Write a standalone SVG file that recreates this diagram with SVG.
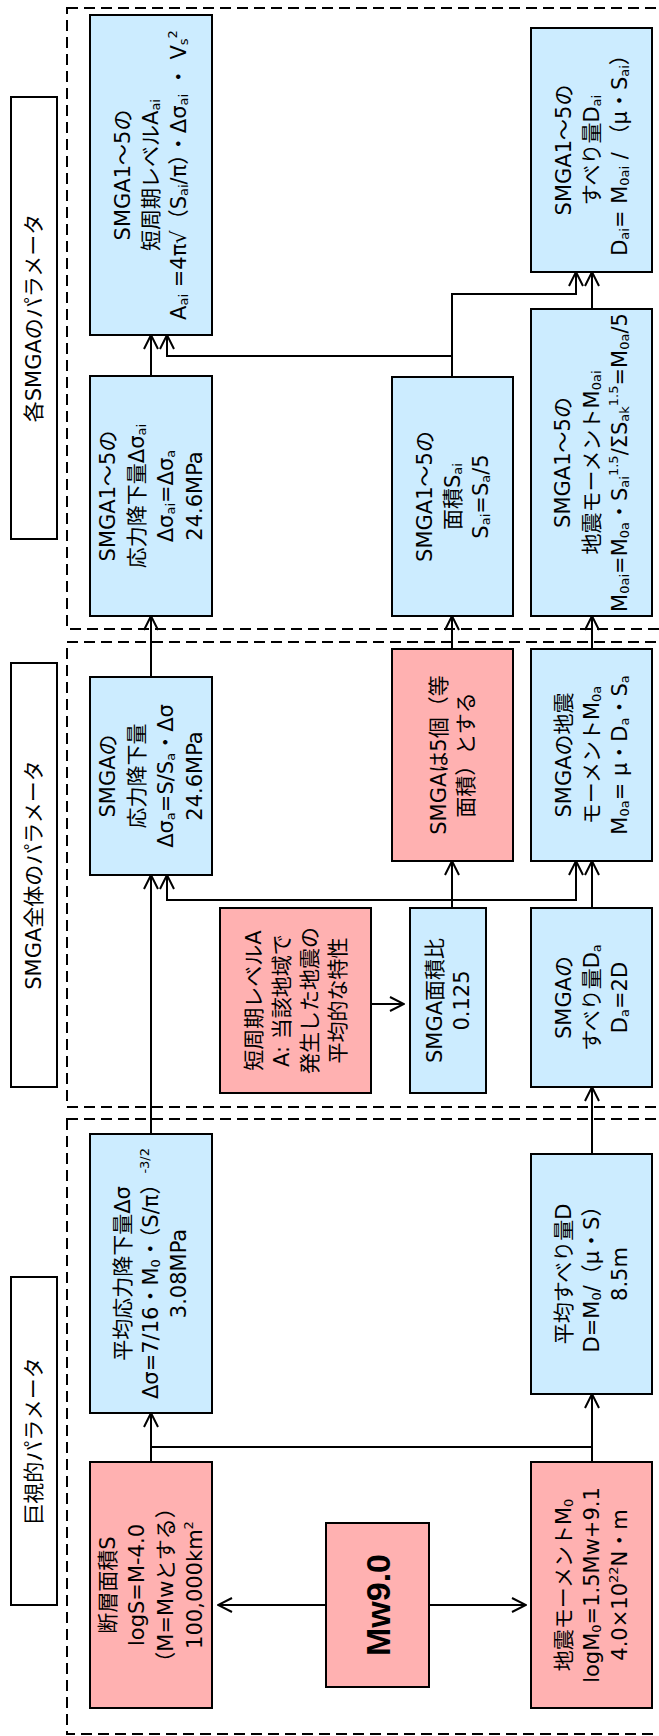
<svg xmlns="http://www.w3.org/2000/svg" width="659" height="1736" viewBox="0 0 659 1736">
<style>
.b{fill:#CCECFF;stroke:#000;stroke-width:2}
.r{fill:#FFB1B1;stroke:#000;stroke-width:2}
.w{fill:#fff;stroke:#000;stroke-width:2}
.d{fill:none;stroke:#000;stroke-width:2;stroke-dasharray:11 6}
.c{fill:none;stroke:#000;stroke-width:2}
.a{marker-end:url(#ah)}
text{font-family:"DejaVu Sans","Noto Sans CJK JP",sans-serif;font-size:21px;text-anchor:middle;dominant-baseline:central;fill:#000}
.s{font-size:13px;baseline-shift:-4px}
.p{font-size:13px;baseline-shift:7px}
.ttl{font-size:21px}
.big{font-family:"Liberation Sans",Arial,sans-serif;font-weight:bold;font-size:34px}
</style>
<defs>
<marker id="ah" viewBox="0 0 16 16" refX="15" refY="8" markerWidth="16" markerHeight="16" markerUnits="userSpaceOnUse" orient="auto"><path d="M1,1 L15,8 L1,15" fill="none" stroke="#000" stroke-width="2"/></marker>
</defs>

<g id="groups">
<rect class="d" x="67" y="8" width="640" height="621"/>
<rect class="d" x="67" y="642" width="640" height="465"/>
<rect class="d" x="67" y="1119" width="640" height="615"/>
</g>

<g id="title-each">
<rect class="w" x="11" y="97" width="46" height="442"/>
<text class="ttl" transform="rotate(-90 34 318)" x="34" y="318">各SMGAのパラメータ</text>
</g>
<g id="title-whole">
<rect class="w" x="11" y="663" width="46" height="424"/>
<text class="ttl" transform="rotate(-90 34 875)" x="34" y="875">SMGA全体のパラメータ</text>
</g>
<g id="title-macro">
<rect class="w" x="11" y="1277" width="46" height="328"/>
<text class="ttl" transform="rotate(-90 34 1441)" x="34" y="1441">巨視的パラメータ</text>
</g>

<g id="connectors">
<path class="c a" d="M326,1605 H218"/>
<path class="c a" d="M429,1605 H526"/>
<path class="c a" d="M151,1462 V1413"/>
<path class="c a" d="M592,1462 V1394"/>
<path class="c" d="M151,1447 H592"/>
<path class="c a" d="M151,1134 V875"/>
<path class="c a" d="M592,1154 V1087"/>
<path class="c a" d="M371,1004 H404"/>
<path class="c a" d="M452,908 V861"/>
<path class="c a" d="M452,900 H167 V875"/>
<path class="c a" d="M452,900 H576 V861"/>
<path class="c a" d="M592,908 V861"/>
<path class="c a" d="M151,677 V616"/>
<path class="c a" d="M452,649 V616"/>
<path class="c a" d="M592,649 V616"/>
<path class="c a" d="M151,376 V335"/>
<path class="c a" d="M452,377 V356 H167 V335"/>
<path class="c a" d="M452,356 V294 H576 V272"/>
<path class="c a" d="M592,309 V272"/>
</g>

<g id="fault-area">
<rect class="r" x="90" y="1462" width="122" height="246"/>
<g transform="rotate(-90 151 1585)">
<text x="151" y="1541.5">断層面積S</text>
<text x="151" y="1570.5">logS=M-4.0</text>
<text x="151" y="1599.5">（M=Mwとする）</text>
<text x="151" y="1628.5">100,000km<tspan class="p">2</tspan></text>
</g>
</g>

<g id="mw">
<rect class="r" x="326" y="1523" width="103" height="164"/>
<text class="big" transform="rotate(-90 377.5 1605)" x="377.5" y="1605">Mw9.0</text>
</g>

<g id="seismic-moment">
<rect class="r" x="531" y="1462" width="121" height="246"/>
<g transform="rotate(-90 591.5 1585)">
<text x="591.5" y="1557">地震モーメントM<tspan class="s">0</tspan></text>
<text x="591.5" y="1585">logM<tspan class="s">0</tspan>=1.5Mw+9.1</text>
<text x="591.5" y="1613">4.0×10<tspan class="p">22</tspan>N・m</text>
</g>
</g>

<g id="avg-stress-drop">
<rect class="b" x="90" y="1134" width="122" height="279"/>
<g transform="rotate(-90 151 1273.5)">
<text x="151" y="1245.5">平均応力降下量Δσ</text>
<text x="151" y="1273.5">Δσ=7/16・M<tspan class="s">0</tspan>・（S/π）<tspan class="p">-3/2</tspan></text>
<text x="151" y="1301.5">3.08MPa</text>
</g>
</g>

<g id="avg-slip">
<rect class="b" x="531" y="1154" width="121" height="240"/>
<g transform="rotate(-90 591.5 1274)">
<text x="591.5" y="1246">平均すべり量D</text>
<text x="591.5" y="1274">D=M<tspan class="s">0</tspan>/（μ・S）</text>
<text x="591.5" y="1302">8.5m</text>
</g>
</g>

<g id="short-period-a">
<rect class="r" x="220" y="908" width="151" height="185"/>
<g transform="rotate(-90 295.5 1000.5)">
<text x="295.5" y="959">短周期レベルA</text>
<text x="295.5" y="987">A: 当該地域で</text>
<text x="295.5" y="1015">発生した地震の</text>
<text x="295.5" y="1043">平均的な特性</text>
</g>
</g>

<g id="smga-area-ratio">
<rect class="b" x="410" y="908" width="76" height="185"/>
<g transform="rotate(-90 448 1000.5)">
<text x="448" y="987">SMGA面積比</text>
<text x="448" y="1014">0.125</text>
</g>
</g>

<g id="smga-slip">
<rect class="b" x="531" y="908" width="121" height="179"/>
<g transform="rotate(-90 591.5 997.5)">
<text x="591.5" y="970">SMGAの</text>
<text x="591.5" y="998">すべり量D<tspan class="s">a</tspan></text>
<text x="591.5" y="1026">D<tspan class="s">a</tspan>=2D</text>
</g>
</g>

<g id="smga-stress-drop">
<rect class="b" x="90" y="677" width="122" height="198"/>
<g transform="rotate(-90 151 776)">
<text x="151" y="732.5">SMGAの</text>
<text x="151" y="761.5">応力降下量</text>
<text x="151" y="790.5">Δσ<tspan class="s">a</tspan>=S/S<tspan class="s">a</tspan>・Δσ</text>
<text x="151" y="819.5">24.6MPa</text>
</g>
</g>

<g id="smga-five">
<rect class="r" x="392" y="649" width="121" height="212"/>
<g transform="rotate(-90 452.5 755)">
<text x="452.5" y="741">SMGAは5個（等</text>
<text x="452.5" y="768">面積）とする</text>
</g>
</g>

<g id="smga-moment">
<rect class="b" x="531" y="649" width="121" height="212"/>
<g transform="rotate(-90 591.5 755)">
<text x="591.5" y="727">SMGAの地震</text>
<text x="591.5" y="755">モーメントM<tspan class="s">0a</tspan></text>
<text x="591.5" y="783">M<tspan class="s">0a</tspan>= μ・D<tspan class="s">a</tspan>・S<tspan class="s">a</tspan></text>
</g>
</g>

<g id="smgai-stress-drop">
<rect class="b" x="90" y="376" width="122" height="240"/>
<g transform="rotate(-90 151 496)">
<text x="151" y="452.5">SMGA1～5の</text>
<text x="151" y="481.5">応力降下量Δσ<tspan class="s">ai</tspan></text>
<text x="151" y="510.5">Δσ<tspan class="s">ai</tspan>=Δσ<tspan class="s">a</tspan></text>
<text x="151" y="539.5">24.6MPa</text>
</g>
</g>

<g id="smgai-area">
<rect class="b" x="392" y="377" width="121" height="239"/>
<g transform="rotate(-90 452.5 496.5)">
<text x="452.5" y="468.5">SMGA1～5の</text>
<text x="452.5" y="496.5">面積S<tspan class="s">ai</tspan></text>
<text x="452.5" y="524.5">S<tspan class="s">ai</tspan>=S<tspan class="s">a</tspan>/5</text>
</g>
</g>

<g id="smgai-moment">
<rect class="b" x="531" y="309" width="121" height="307"/>
<g transform="rotate(-90 591.5 462.5)">
<text x="591.5" y="434">SMGA1～5の</text>
<text x="591.5" y="462.5">地震モーメントM<tspan class="s">0ai</tspan></text>
<text x="591.5" y="491">M<tspan class="s">0ai</tspan>=M<tspan class="s">0a</tspan>・S<tspan class="s">ai</tspan><tspan class="p">1.5</tspan>/ΣS<tspan class="s">ak</tspan><tspan class="p">1.5</tspan>=M<tspan class="s">0a</tspan>/5</text>
</g>
</g>

<g id="smgai-short-period">
<rect class="b" x="90" y="15" width="122" height="320"/>
<g transform="rotate(-90 151 175)">
<text x="151" y="147">SMGA1～5の</text>
<text x="151" y="175">短周期レベルA<tspan class="s">ai</tspan></text>
<text x="151" y="203">A<tspan class="s">ai</tspan> =4π√（S<tspan class="s">ai</tspan>/π）・Δσ<tspan class="s">ai</tspan> ・ V<tspan class="s">s</tspan><tspan class="p">2</tspan></text>
</g>
</g>

<g id="smgai-slip">
<rect class="b" x="531" y="28" width="121" height="244"/>
<g transform="rotate(-90 591.5 150)">
<text x="591.5" y="122">SMGA1～5の</text>
<text x="591.5" y="150">すべり量D<tspan class="s">ai</tspan></text>
<text x="591.5" y="178">D<tspan class="s">ai</tspan>= M<tspan class="s">0ai</tspan> / （μ・S<tspan class="s">ai</tspan>）</text>
</g>
</g>
</svg>
